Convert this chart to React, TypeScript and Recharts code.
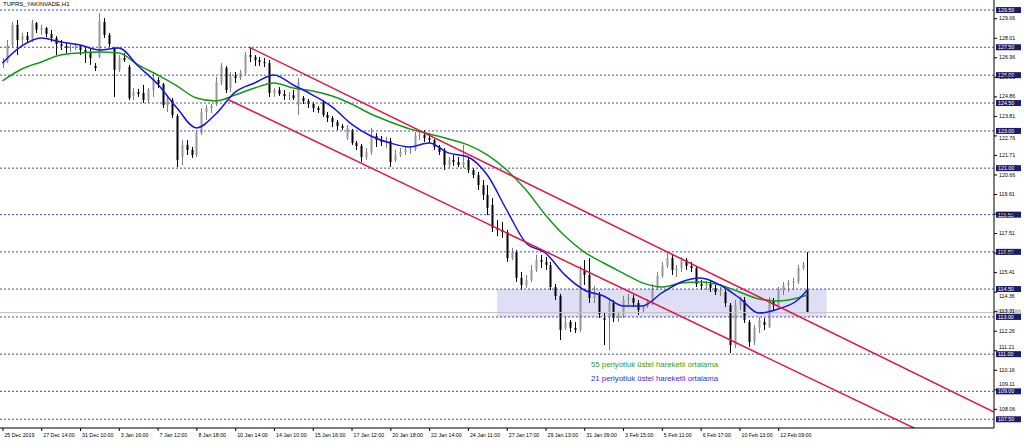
import { ComposedChart, Bar, Line, XAxis, YAxis, ReferenceLine, ReferenceArea } from 'recharts';

// H1 bars, one slot per bar; tick labels sit every 8 slots
const timeLabels = [
  '25 Dec 2019', '27 Dec 14:00', '31 Dec 10:00', '3 Jan 16:00', '7 Jan 12:00', '8 Jan 18:00',
  '10 Jan 14:00', '14 Jan 10:00', '15 Jan 16:00', '17 Jan 12:00', '20 Jan 18:00', '22 Jan 14:00',
  '24 Jan 11:00', '27 Jan 17:00', '29 Jan 13:00', '31 Jan 09:00', '3 Feb 15:00', '5 Feb 11:00',
  '6 Feb 17:00', '10 Feb 13:00', '12 Feb 09:00',
];

const opens = [
  126.55, 126.71, 127.62, 128.70, 127.89, 128.10, 127.89, 128.80, 128.43, 128.53,
  128.21, 128.00, 127.67, 127.57, 127.46, 127.51, 127.57, 127.35, 127.24, 126.49,
  126.98, 128.86, 128.16, 127.46, 126.28, 126.92, 126.44, 124.88, 125.09, 125.04,
  124.66, 125.20, 125.74, 125.52, 124.34, 124.66, 123.80, 121.60, 122.25, 121.98,
  121.71, 122.89, 124.02, 124.23, 124.45, 125.63, 126.38, 125.31, 125.95, 125.85,
  126.12, 127.08, 126.98, 126.81, 126.71, 126.65, 125.04, 125.20, 124.99, 124.88,
  124.93, 124.40, 124.77, 124.61, 124.45, 124.23, 124.56, 123.86, 123.70, 123.48,
  123.27, 122.62, 123.05, 122.35, 122.19, 121.60, 121.87, 122.73, 122.51, 122.41,
  122.46, 121.44, 121.71, 121.87, 121.98, 122.03, 122.73, 122.78, 122.62, 122.51,
  122.14, 121.98, 121.17, 121.44, 121.33, 121.17, 121.44, 120.90, 120.63, 120.09,
  119.56, 119.02, 117.78, 117.68, 117.57, 116.17, 116.49, 115.10, 114.72, 114.99,
  115.53, 116.06, 115.96, 115.79, 114.61, 114.13, 112.41, 112.73, 112.41, 112.30,
  115.53, 115.26, 114.02, 114.18, 112.94, 113.00, 113.75, 112.94, 113.11, 113.91,
  114.02, 113.75, 113.37, 113.59, 113.81, 114.56, 115.20, 115.74, 116.17, 115.53,
  115.63, 116.06, 115.74, 115.63, 114.77, 114.67, 114.77, 114.56, 114.34, 114.34,
  113.64, 111.49, 113.64, 113.91, 112.73, 111.65, 112.41, 112.73, 112.46, 113.91,
  113.64, 114.45, 114.72, 114.83, 114.88, 115.63, 114.45,
];

const highs = [
  126.92, 127.89, 128.86, 128.97, 128.27, 128.32, 128.97, 128.86, 128.70, 128.59,
  128.43, 128.10, 127.89, 127.73, 127.67, 127.73, 127.62, 127.51, 127.46, 126.65,
  129.34, 129.07, 128.27, 127.51, 127.08, 127.19, 126.55, 125.31, 125.26, 125.47,
  125.31, 126.12, 125.90, 125.58, 124.93, 124.77, 123.91, 122.51, 122.51, 122.14,
  123.05, 124.23, 124.40, 124.45, 125.90, 126.65, 126.49, 126.17, 126.17, 126.28,
  127.24, 127.51, 127.08, 126.98, 126.92, 126.81, 125.31, 125.36, 125.20, 125.09,
  125.20, 125.85, 124.88, 124.72, 124.56, 124.34, 124.66, 124.02, 123.80, 123.59,
  123.37, 123.32, 123.11, 122.46, 122.30, 122.08, 123.16, 122.89, 122.73, 122.68,
  122.62, 121.98, 122.08, 122.14, 122.19, 122.94, 123.00, 123.05, 122.89, 122.57,
  122.25, 122.08, 121.60, 121.71, 121.60, 122.25, 121.60, 121.01, 120.79, 120.36,
  120.09, 119.40, 118.21, 118.11, 117.68, 116.71, 116.60, 115.42, 115.26, 115.79,
  116.33, 116.33, 116.22, 115.96, 114.77, 114.24, 113.05, 112.84, 112.73, 115.74,
  116.06, 116.17, 114.67, 114.34, 113.27, 114.02, 113.91, 113.27, 114.13, 114.24,
  114.18, 113.91, 113.64, 113.97, 114.77, 115.42, 115.96, 116.44, 116.33, 115.79,
  116.22, 116.17, 115.96, 115.74, 114.99, 114.93, 114.99, 114.72, 114.61, 114.45,
  113.75, 113.91, 114.07, 114.07, 112.84, 112.57, 113.00, 112.94, 114.07, 114.02,
  114.61, 114.88, 114.99, 115.10, 115.79, 115.96, 116.49,
];

const lows = [
  126.38, 126.65, 127.51, 127.08, 127.62, 127.73, 127.78, 128.27, 128.16, 128.05,
  127.78, 127.08, 127.35, 127.19, 127.24, 127.35, 127.08, 126.65, 126.55, 126.22,
  126.92, 128.00, 127.51, 124.83, 126.17, 126.71, 124.66, 124.66, 124.83, 124.50,
  124.50, 124.83, 125.31, 124.23, 124.02, 123.70, 121.06, 121.17, 121.71, 121.55,
  121.60, 122.78, 123.59, 123.97, 124.34, 125.47, 125.04, 125.09, 125.58, 125.74,
  126.01, 126.71, 126.49, 126.49, 126.44, 124.83, 124.83, 124.88, 124.66, 124.66,
  124.66, 123.86, 124.45, 124.23, 124.02, 123.97, 123.75, 123.48, 123.21, 123.05,
  123.05, 122.51, 122.25, 121.98, 121.33, 121.44, 121.71, 122.14, 122.19, 122.08,
  121.06, 121.33, 121.60, 121.71, 121.76, 121.92, 122.51, 122.41, 122.35, 121.98,
  121.71, 120.90, 121.01, 121.12, 121.06, 121.01, 120.74, 120.47, 119.83, 119.29,
  118.48, 117.57, 117.35, 117.25, 115.96, 116.06, 114.88, 114.45, 114.56, 114.88,
  115.42, 115.63, 115.53, 114.45, 113.91, 111.76, 112.30, 112.19, 112.14, 112.19,
  114.72, 113.75, 113.75, 112.94, 111.49, 111.22, 112.73, 112.73, 112.94, 113.64,
  113.54, 113.11, 113.21, 113.48, 113.64, 114.45, 115.10, 115.63, 115.26, 115.15,
  115.42, 115.53, 115.42, 114.61, 114.45, 114.45, 114.34, 114.18, 114.13, 113.54,
  111.06, 111.33, 113.37, 112.68, 111.39, 111.49, 112.14, 112.30, 112.41, 113.37,
  113.54, 114.18, 114.34, 114.45, 114.77, 115.53, 113.21,
];

const closes = [
  126.71, 127.62, 128.70, 127.89, 128.10, 127.89, 128.80, 128.43, 128.53, 128.21,
  128.00, 127.67, 127.57, 127.46, 127.51, 127.57, 127.35, 127.24, 126.92, 126.38,
  128.86, 128.16, 127.67, 126.28, 126.92, 126.81, 124.77, 125.09, 124.99, 124.66,
  125.20, 125.85, 125.52, 124.40, 124.72, 123.86, 121.44, 122.25, 121.98, 121.71,
  122.89, 124.02, 124.23, 124.34, 125.63, 126.49, 125.20, 125.95, 125.85, 126.12,
  127.08, 126.98, 126.81, 126.71, 126.65, 125.04, 125.20, 124.99, 124.88, 124.93,
  124.77, 125.63, 124.61, 124.45, 124.23, 124.13, 123.86, 123.70, 123.48, 123.27,
  123.16, 123.16, 122.35, 122.19, 121.60, 121.87, 122.73, 122.51, 122.41, 122.46,
  121.33, 121.71, 121.87, 121.98, 122.03, 122.73, 122.78, 122.62, 122.51, 122.14,
  121.87, 121.17, 121.44, 121.33, 121.17, 121.33, 120.90, 120.63, 120.09, 119.56,
  118.86, 117.78, 117.68, 117.57, 116.17, 116.49, 115.10, 114.72, 114.99, 115.53,
  116.06, 115.96, 115.79, 114.61, 114.13, 112.30, 112.73, 112.41, 112.30, 115.53,
  115.26, 114.02, 114.34, 113.16, 112.84, 113.75, 112.94, 113.11, 113.91, 114.02,
  113.75, 113.37, 113.59, 113.81, 114.56, 115.20, 115.74, 116.17, 115.53, 115.63,
  116.06, 115.74, 115.63, 114.77, 114.67, 114.77, 114.56, 114.34, 114.45, 113.75,
  111.49, 113.64, 113.91, 112.84, 111.65, 112.41, 112.84, 112.57, 113.91, 113.64,
  114.45, 114.72, 114.83, 114.88, 115.63, 115.79, 113.24,
];

// moving averages at these bar slots
const emaSlots = [
  0, 4, 8, 12, 16, 20, 24, 28, 32, 36, 40, 44, 48, 52, 56, 60, 64, 68, 72, 76, 80, 84,
  88, 92, 96, 100, 104, 108, 112, 116, 120, 124, 128, 132, 136, 140, 144, 148, 152, 156,
  160, 164, 166,
];
const ema21 = [
  126.65, 127.57, 128.0, 127.78, 127.62, 127.35, 127.46, 126.49, 125.52, 124.23,
  123.16, 123.91, 125.09, 125.58, 126.01, 125.47, 124.93, 124.29, 123.37, 122.73,
  122.35, 122.14, 122.35, 121.82, 121.6, 120.63, 118.75, 116.98, 116.44, 115.26,
  114.45, 114.13, 113.59, 113.59, 114.29, 114.88, 115.1, 114.72, 114.02, 113.21,
  113.43, 113.91, 114.45,
];
const ema55 = [
  125.69, 126.33, 126.71, 127.08, 127.19, 127.24, 127.19, 126.55, 126.01, 125.42,
  124.77, 124.61, 124.93, 125.31, 125.58, 125.31, 125.15, 124.88, 124.45, 123.91,
  123.48, 123.11, 122.84, 122.57, 122.25, 121.71, 120.9, 119.83, 118.48, 117.35,
  116.49, 115.9, 115.36, 114.83, 114.61, 114.83, 114.88, 114.72, 114.34, 113.97,
  113.86, 114.02, 114.18,
];

const levels = [129.5, 127.5, 126.0, 124.5, 123.0, 121.0, 118.5, 116.5, 114.5, 113.0, 111.0, 109.0, 107.5];
const priceTicks = [
  108.06, 109.11, 110.16, 111.21, 112.26, 113.31, 114.36, 115.41, 116.46, 117.51, 118.56,
  119.61, 120.66, 121.71, 122.76, 123.81, 124.86, 125.91, 126.96, 128.01, 129.06,
];
const bidPrice = 113.24;

// channel and zone, in (slot, price)
const channelUpper = [{ x: 50.85, y: 127.51 }, { x: 204.5, y: 107.89 }];
const channelLower = [{ x: 46.3, y: 124.72 }, { x: 204.5, y: 104.97 }];
const zoneSlots = [102, 170];
const zonePrices = [113.0, 114.5];

const SLOTS = 205;
const Y_DOMAIN = [107.03, 130.04];
const PLOT_H = 428;
const FONT = '"Liberation Sans", Arial, sans-serif';

function Candle(props: any) {
  const { x, y, width, height, payload } = props;
  if (x == null || !payload) return null;
  const top = Math.min(y, y + height);
  const bottom = Math.max(y, y + height);
  const span = payload.high - payload.low;
  const k = span > 0 ? (bottom - top) / span : 0;
  const py = (v: number) => top + (payload.high - v) * k;
  const cx = Math.round(x + width / 2);
  const up = payload.close >= payload.open;
  const bTop = py(Math.max(payload.open, payload.close));
  const bH = Math.max(1, py(Math.min(payload.open, payload.close)) - bTop);
  return (
    <g>
      <line x1={cx + 0.5} x2={cx + 0.5} y1={top} y2={bottom} stroke={up ? '#7c7c7c' : '#000'} strokeWidth={1} />
      <rect x={cx - 0.5} y={bTop} width={2} height={bH} fill={up ? '#989898' : '#000'} />
    </g>
  );
}

function TimeTick(props: any) {
  const { x, y, payload } = props;
  const label = timeLabels[Math.round(payload.value / 8)];
  return (
    <g>
      <line x1={x + 0.5} x2={x + 0.5} y1={y} y2={y + 3} stroke="#000" />
      <text x={x + 2} y={y + 9} fontSize={5.3} fontFamily={FONT} fill="#000">{label}</text>
    </g>
  );
}

// a tick label right under a level tag stays hidden behind it (as in the terminal);
// one that only touches a tag is nudged clear of it
function labelShift(v: number) {
  const pxPerUnit = PLOT_H / (Y_DOMAIN[1] - Y_DOMAIN[0]);
  const ds = [...levels, bidPrice].map((lv) => (lv - v) * pxPerUnit);
  if (ds.some((d) => Math.abs(d) < 2)) return 0;
  let shift = 0;
  ds.forEach((d) => {
    if (Math.abs(d) < 7) shift = d > 0 ? 7 - d : -7 - d;
  });
  return shift;
}

function PriceTick(props: any) {
  const { x, y, payload } = props;
  const dy = labelShift(payload.value);
  return (
    <g>
      <line x1={x} x2={x + 3} y1={y + 0.5} y2={y + 0.5} stroke="#000" />
      <text x={x + 5} y={y + 2 + dy} fontSize={5.3} fontFamily={FONT} fill="#000">{payload.value.toFixed(2)}</text>
    </g>
  );
}

function LevelTag(props: any) {
  const { viewBox, value, fill, color } = props;
  if (!viewBox) return null;
  const left = viewBox.x + viewBox.width + 2;
  return (
    <g>
      <rect x={left} y={viewBox.y - 3} width={25} height={6} fill={fill} />
      <text x={left + 2} y={viewBox.y + 2} fontSize={5.3} fontFamily={FONT} fill={color}>{value.toFixed(2)}</text>
    </g>
  );
}

export default function App() {
  const rows = opens.map((o, i) => ({
    slot: i,
    range: [lows[i], highs[i]],
    open: o,
    high: highs[i],
    low: lows[i],
    close: closes[i],
  }));
  const fast = emaSlots.map((s, k) => ({ slot: s, v: ema21[k] }));
  const slow = emaSlots.map((s, k) => ({ slot: s, v: ema55[k] }));
  const slotTicks = timeLabels.map((_, k) => k * 8);

  return (
    <div style={{ position: 'relative', width: 1024, height: 441, background: '#fff' }}>
      <style>{'body{margin:0}'}</style>
      <ComposedChart width={1024} height={441} data={rows} margin={{ top: 0, right: 0, bottom: 0, left: 0 }}>
        <XAxis
          dataKey="slot"
          type="number"
          domain={[-0.5, SLOTS - 0.5]}
          allowDataOverflow
          ticks={slotTicks}
          interval={0}
          height={13}
          tickSize={0}
          tickMargin={0}
          tickLine={false}
          axisLine={{ stroke: '#000' }}
          tick={<TimeTick />}
        />
        <YAxis
          orientation="right"
          type="number"
          domain={Y_DOMAIN}
          allowDataOverflow
          ticks={priceTicks}
          interval={0}
          width={30}
          tickSize={0}
          tickMargin={0}
          tickLine={false}
          axisLine={{ stroke: '#000' }}
          tick={<PriceTick />}
        />
        <ReferenceArea
          x1={zoneSlots[0]}
          x2={zoneSlots[1]}
          y1={zonePrices[0]}
          y2={zonePrices[1]}
          fill="#dedef6"
          fillOpacity={1}
          stroke="none"
        />
        <ReferenceLine y={bidPrice} stroke="#c4c4c4" label={<LevelTag value={bidPrice} fill="#c8c8c8" color="#f4f4f4" />} />
        {levels.map((lv) => (
          <ReferenceLine
            key={lv}
            y={lv}
            stroke="#4a4aa8"
            strokeDasharray="2 2"
            label={<LevelTag value={lv} fill="#1c1c6a" color="#fff" />}
          />
        ))}
        <Bar dataKey="range" shape={<Candle />} barSize={3} isAnimationActive={false} />
        <Line data={slow} dataKey="v" type="monotone" stroke="#159915" strokeWidth={1.5} dot={false} activeDot={false} isAnimationActive={false} />
        <Line data={fast} dataKey="v" type="monotone" stroke="#1515e6" strokeWidth={1.5} dot={false} activeDot={false} isAnimationActive={false} />
        <ReferenceLine segment={channelUpper} stroke="#e3173f" strokeWidth={1.5} ifOverflow="hidden" />
        <ReferenceLine segment={channelLower} stroke="#e3173f" strokeWidth={1.5} ifOverflow="hidden" />
      </ComposedChart>
      <div style={{ position: 'absolute', left: 3, top: 1, fontFamily: FONT, fontSize: 6, lineHeight: 1, color: '#000' }}>
        TUPRS_YAKINVADE,H1
      </div>
      <div style={{ position: 'absolute', left: 591, top: 361, fontFamily: FONT, fontSize: 7.8, lineHeight: 1, color: '#2a9a2a' }}>
        55 periyotluk üstel hareketli ortalama
      </div>
      <div style={{ position: 'absolute', left: 591, top: 375, fontFamily: FONT, fontSize: 7.8, lineHeight: 1, color: '#2f2fe0' }}>
        21 periyotluk üstel hareketli ortalama
      </div>
    </div>
  );
}
